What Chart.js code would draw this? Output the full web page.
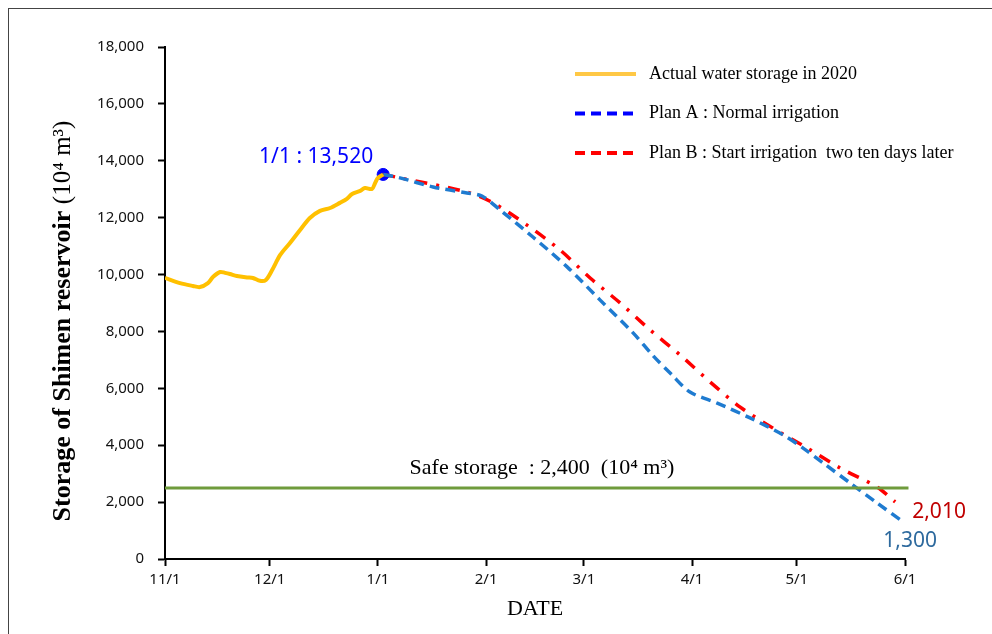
<!DOCTYPE html>
<html>
<head>
<meta charset="utf-8">
<script src="https://cdn.jsdelivr.net/npm/chart.js@4.4.0/dist/chart.umd.min.js"></script>
<style>
  html, body { margin: 0; padding: 0; background: #fff; }
  canvas { display: block; }
</style>
</head>
<body>
<canvas id="chart" width="992" height="634"></canvas>
<script>
// Days counted from 11/1
const monthDays = [0, 30, 61, 92, 120, 151, 181, 212];
const monthLabels = ['11/1', '12/1', '1/1', '2/1', '3/1', '4/1', '5/1', '6/1'];

// Actual water storage in 2020 (10^4 m3)
const actualDays = [0, 4.3, 8, 10, 12.3, 13.8, 15.8, 17.2, 18.6, 20.6, 23.5, 25.2, 27.2, 28.9, 30.7, 33, 35.8, 38.7, 41.5, 44.4, 47.3, 50.1, 52.1, 53.6, 55.9, 57.3, 59.3, 60.2, 61, 62.5];
const actualValues = [9880, 9700, 9600, 9560, 9700, 9920, 10090, 10060, 10020, 9950, 9900, 9880, 9780, 9810, 10160, 10690, 11110, 11570, 11990, 12240, 12340, 12520, 12660, 12830, 12940, 13040, 13010, 13220, 13400, 13520];

// Plan A : Normal irrigation
const planADays = [62.5, 67.3, 76.8, 86.5, 90.8, 96, 105.4, 115.2, 124.6, 134.1, 139.8, 145, 150.4, 158.2, 167.6, 177.1, 182.8, 188.5, 196.3, 204, 211.5];
const planAValues = [13520, 13400, 13080, 12870, 12760, 12270, 11320, 10270, 9110, 7950, 7150, 6500, 5870, 5480, 4960, 4360, 3900, 3380, 2670, 1970, 1300];

// Plan B : Start irrigation two ten days later
const planBDays = [62.5, 67.3, 86.5, 94, 103.7, 113.2, 121.8, 130.4, 139, 147.6, 156.2, 164.8, 174.2, 184, 193.4, 204, 209.2];
const planBValues = [13520, 13400, 12900, 12520, 11740, 10860, 9880, 9000, 8050, 7170, 6220, 5340, 4600, 3900, 3200, 2530, 2010];

// Safe storage line
const safeDays = [0, 213];
const safeValues = [2500, 2500];

// 1/1 marker
const markerDays = [62.5];
const markerValues = [13520];

const yTicks = [0, 2000, 4000, 6000, 8000, 10000, 12000, 14000, 16000, 18000];

const toXY = (xs, ys) => xs.map((x, i) => ({ x: x, y: ys[i] }));
const fmt = v => v.toLocaleString('en-US');

const serif = '"Liberation Serif", "Times New Roman", serif';
const sans = '"Noto Sans", "Open Sans", sans-serif';

// Dibujo de textos, leyenda y marco
const overlay = {
  id: 'overlay',
  afterDraw(chart) {
    const ctx = chart.ctx;
    const xs = chart.scales.x, ys = chart.scales.y;
    ctx.save();

    // marco
    ctx.strokeStyle = '#444';
    ctx.lineWidth = 1;
    ctx.strokeRect(8.5, 8.5, 1100, 800);

    // título eje Y (texto mixto)
    const part1 = 'Storage of Shimen reservoir ';
    const part2 = '(10\u2074 m\u00b3)';
    ctx.translate(63, 321);
    ctx.rotate(-Math.PI / 2);
    ctx.fillStyle = '#000';
    ctx.textBaseline = 'middle';
    ctx.font = 'bold 26px ' + serif;
    const w1 = ctx.measureText(part1).width;
    ctx.font = '25px ' + serif;
    const w2 = ctx.measureText(part2).width;
    let sx = -(w1 + w2) / 2;
    ctx.textAlign = 'left';
    ctx.font = 'bold 26px ' + serif;
    ctx.fillText(part1, sx, 0);
    ctx.font = '25px ' + serif;
    ctx.fillText(part2, sx + w1, 0);
    ctx.setTransform(1, 0, 0, 1, 0, 0);

    // título eje X
    ctx.font = '22px ' + serif;
    ctx.textAlign = 'center';
    ctx.textBaseline = 'alphabetic';
    ctx.fillText('DATE', (xs.left + xs.right) / 2, 615);

    // almacenamiento seguro
    ctx.font = '22px ' + serif;
    ctx.fillText('Safe storage  : ' + fmt(2400) + '  (10\u2074 m\u00b3)', 542, 474);

    // etiquetas de puntos
    ctx.font = '21px ' + sans;
    ctx.textAlign = 'right';
    ctx.fillStyle = '#0000ff';
    ctx.fillText(monthLabels[2] + ' : ' + fmt(markerValues[0]),
      xs.getPixelForValue(markerDays[0]) - 10, ys.getPixelForValue(markerValues[0]) - 11);
    ctx.textAlign = 'left';
    ctx.fillStyle = '#c00000';
    ctx.fillText(fmt(planBValues[planBValues.length - 1]),
      xs.getPixelForValue(planBDays[planBDays.length - 1]) + 17, ys.getPixelForValue(planBValues[planBValues.length - 1]) + 16);
    ctx.fillStyle = '#2e6a9e';
    ctx.fillText(fmt(planAValues[planAValues.length - 1]),
      xs.getPixelForValue(planADays[planADays.length - 1]) - 20, ys.getPixelForValue(planAValues[planAValues.length - 1]) + 25);

    // leyenda
    const items = [
      { text: 'Actual water storage in 2020', color: '#ffc845', dash: [] },
      { text: 'Plan A : Normal irrigation', color: '#0000ff', dash: [10, 6] },
      { text: 'Plan B : Start irrigation  two ten days later', color: '#ff0000', dash: [10, 6] }
    ];
    ctx.font = '18px ' + serif;
    ctx.fillStyle = '#000';
    ctx.textBaseline = 'middle';
    items.forEach((it, i) => {
      const y = 74 + i * 39.5;
      ctx.strokeStyle = it.color;
      ctx.lineWidth = 4;
      ctx.setLineDash(it.dash);
      ctx.beginPath();
      ctx.moveTo(575, y);
      ctx.lineTo(636, y);
      ctx.stroke();
      ctx.setLineDash([]);
      ctx.fillText(it.text, 649, y);
    });

    ctx.restore();
  }
};

new Chart(document.getElementById('chart'), {
  type: 'line',
  data: {
    datasets: [
      {
        label: 'Safe storage',
        data: toXY(safeDays, safeValues),
        borderColor: '#6f9b3c',
        borderWidth: 3,
        pointRadius: 0,
        clip: false
      },
      {
        label: 'Actual water storage in 2020',
        data: toXY(actualDays, actualValues),
        borderColor: '#ffc000',
        borderWidth: 4,
        pointRadius: 0,
        tension: 0.3
      },
      {
        label: 'Plan A : Normal irrigation',
        data: toXY(planADays, planAValues),
        borderColor: '#1f7bd0',
        borderWidth: 3.5,
        borderDash: [10, 6],
        pointRadius: 0,
        tension: 0.3
      },
      {
        label: 'Plan B : Start irrigation two ten days later',
        data: toXY(planBDays, planBValues),
        borderColor: '#ff0000',
        borderWidth: 3.5,
        borderDash: [12, 9, 3, 9],
        pointRadius: 0,
        tension: 0.3
      },
      {
        label: '1/1',
        data: toXY(markerDays, markerValues),
        showLine: false,
        pointRadius: 6,
        pointBackgroundColor: '#0000ff',
        pointBorderColor: '#0000ff'
      }
    ]
  },
  options: {
    responsive: false,
    animation: false,
    layout: { padding: { left: 0, top: 47, right: 87, bottom: 0 } },
    plugins: {
      legend: { display: false },
      tooltip: { enabled: false }
    },
    scales: {
      x: {
        type: 'linear',
        min: 0,
        max: 212,
        afterBuildTicks: s => { s.ticks = monthDays.map(v => ({ value: v })); },
        afterFit: s => { s.height = 75; },
        grid: { drawOnChartArea: false, drawTicks: true, tickLength: 7, tickWidth: 2, tickColor: '#000' },
        border: { color: '#000', width: 2 },
        ticks: {
          padding: 5,
          maxRotation: 0,
          autoSkip: false,
          color: '#111',
          font: { family: sans, size: 15 },
          callback: v => monthLabels[monthDays.indexOf(v)]
        }
      },
      y: {
        min: 0,
        max: 18000,
        afterBuildTicks: s => { s.ticks = yTicks.map(v => ({ value: v })); },
        afterFit: s => { s.width = 165; },
        grid: { drawOnChartArea: false, drawTicks: true, tickLength: 7, tickWidth: 2, tickColor: '#000' },
        border: { color: '#000', width: 2 },
        ticks: {
          padding: 14,
          color: '#111',
          font: { family: sans, size: 15 },
          callback: v => fmt(v)
        }
      }
    }
  },
  plugins: [overlay]
});
</script>
</body>
</html>
